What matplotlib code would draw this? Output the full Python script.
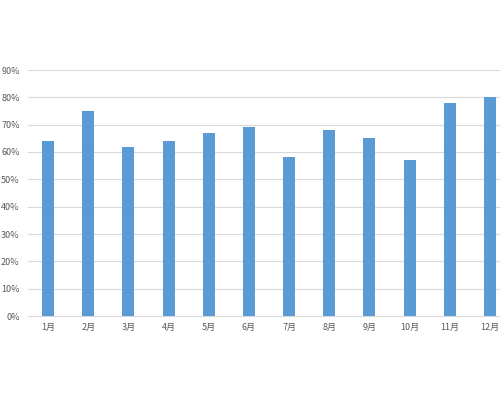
import matplotlib
matplotlib.use("Agg")
import matplotlib.pyplot as plt
from matplotlib.ticker import FuncFormatter

plt.rcParams['font.family'] = ['Noto Sans CJK SC', 'DejaVu Sans']

months = ["1月", "2月", "3月", "4月", "5月", "6月", "7月", "8月", "9月", "10月", "11月", "12月"]
values = [0.64, 0.75, 0.62, 0.64, 0.67, 0.69, 0.58, 0.68, 0.65, 0.57, 0.78, 0.80]
yticks = [0.0, 0.1, 0.2, 0.3, 0.4, 0.5, 0.6, 0.7, 0.8, 0.9]

fig = plt.figure(figsize=(5, 4), dpi=100)
fig.patch.set_facecolor("white")
ax = fig.add_axes([0.056, 0.21, 0.964, 0.615])

x = list(range(len(months)))
ax.bar(x, values, width=0.3, color="#5B9BD5", zorder=3)

ax.set_xlim(-0.5, len(months) - 0.5)
ax.set_ylim(0, 0.9)
ax.set_yticks(yticks)
ax.yaxis.set_major_formatter(FuncFormatter(lambda v, p: f"{v*100:.0f}%"))
ax.set_xticks(x)
ax.set_xticklabels(months)

ax.grid(axis="y", color="#D9D9D9", linewidth=0.8, zorder=0)
for s in ["top", "right", "left"]:
    ax.spines[s].set_visible(False)
ax.spines["bottom"].set_color("#D9D9D9")
ax.spines["bottom"].set_linewidth(0.8)
ax.tick_params(axis="both", length=0, labelsize=6.5, colors="#595959")
ax.tick_params(axis="y", pad=6)
ax.tick_params(axis="x", pad=5)

fig.savefig("out.png", dpi=100, facecolor="white")
